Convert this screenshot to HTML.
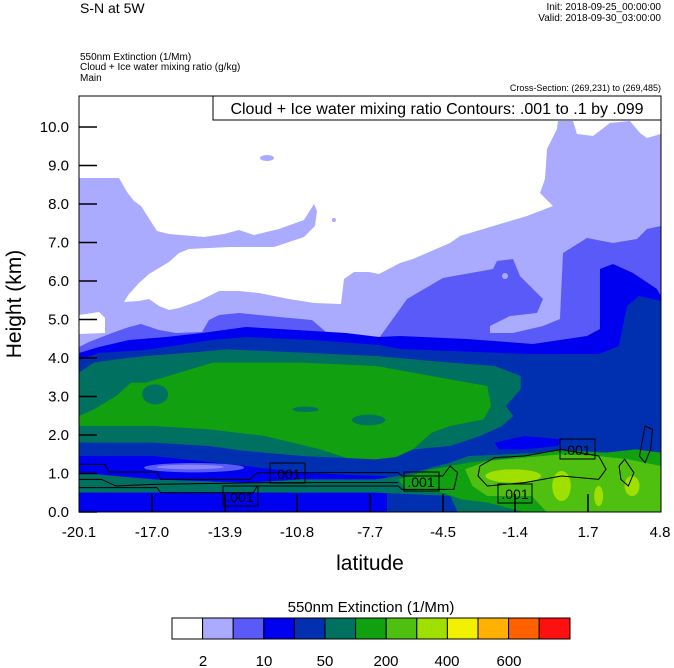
<!DOCTYPE html>
<html><head><meta charset="utf-8"><style>
html,body{margin:0;padding:0;background:#fff;}
svg{display:block;font-family:"Liberation Sans",Arial,sans-serif;}
</style></head><body>
<svg width="674" height="668" viewBox="0 0 674 668" xmlns="http://www.w3.org/2000/svg">
<text x="80" y="13" font-size="14">S-N at 5W</text>
<text x="661" y="10" font-size="10" text-anchor="end">Init: 2018-09-25_00:00:00</text>
<text x="661" y="21" font-size="10" text-anchor="end">Valid: 2018-09-30_03:00:00</text>
<text x="80" y="60" font-size="10">550nm Extinction   (1/Mm)</text>
<text x="80" y="70" font-size="10">Cloud + Ice water mixing ratio   (g/kg)</text>
<text x="80" y="81" font-size="10">Main</text>
<text x="661" y="91" font-size="9" text-anchor="end">Cross-Section: (269,231) to (269,485)</text>

<svg x="79" y="96" width="582" height="416" viewBox="0 0 1568 1248" preserveAspectRatio="none">
<rect width="1568" height="1248" fill="#aaaaff"/>
<g transform="scale(2.694,3)">
<polygon fill="#fff" points="0,0 582,0 582,38 568,42 561,37 551,25 531,27 514,40 498,38 494,25 479,25 478,33 468,53 466,83 461,97 474,110 448,120 421,128 381,140 371,147 334,163 321,167 300,178 290,176 275,176 265,183 262,208 235,207 210,203 180,197 160,195 140,195 120,205 100,212 90,214 80,210 70,203 60,205 45,206 50,198 60,187 70,178 90,166 100,157 110,153 150,151 195,151 225,141 236,130 238,115 235,108 225,124 200,133 175,139 160,134 145,138 125,141 90,138 78,135 62,110 55,105 48,96 40,82 0,82"/>
<polygon fill="#fff" points="0,219 20,216 26,222 26,237 0,238"/>
<ellipse cx="188" cy="62" rx="7" ry="3" fill="#aaaaff"/>
<ellipse cx="255" cy="124" rx="2" ry="2" fill="#aaaaff"/>
<polygon fill="#5a5af8" points="0,251 10,246 33,237 50,231 62,228 80,234 97,237 123,236 130,224 140,219 160,217 200,221 233,224 247,236 267,239 300,242 321,213 328,203 364,182 414,173 418,165 434,163 441,180 464,203 458,217 431,220 411,230 411,237 434,237 464,230 481,223 484,157 508,142 534,147 558,143 568,133 582,130 582,416 0,416"/>
<ellipse cx="426" cy="180" rx="3" ry="3" fill="#aaaaff"/>
<polygon fill="#0000f0" points="0,257 20,251 50,244 87,241 123,237 167,231 217,234 267,237 300,241 321,240 388,243 454,248 508,240 521,233 521,173 534,168 554,177 578,193 582,200 582,416 0,416"/>
<polygon fill="#0030b0" points="0,264 20,257 67,254 133,244 167,241 233,244 300,249 321,253 450,258 520,258 540,250 548,210 560,200 582,205 582,416 0,416"/>
</g>
<polygon fill="#007060" points="0,830 40,800 100,790 180,780 300,770 400,760 600,770 800,780 1000,800 1120,810 1190,840 1190,880 1150,930 1170,960 1140,990 1080,1020 1000,1050 900,1060 800,1080 700,1090 600,1080 480,1070 350,1050 200,1040 100,1040 0,1040"/>
<polygon fill="#10a010" points="0,960 40,940 100,900 140,860 180,860 240,840 300,820 360,800 600,800 800,810 900,830 1000,850 1100,870 1110,930 1090,970 1000,990 950,1010 900,1060 820,1100 760,1100 650,1060 500,1020 350,1000 200,990 100,990 0,990"/>
<ellipse cx="205" cy="895" rx="35" ry="30" fill="#007060"/>
<ellipse cx="610" cy="940" rx="35" ry="8" fill="#007060"/>
<ellipse cx="780" cy="972" rx="45" ry="16" fill="#007060"/>
<polygon fill="#0030b0" points="0,1040 300,1050 600,1080 800,1090 880,1080 960,1060 1050,1040 1200,1030 1280,1020 1280,1248 0,1248"/>
<polygon fill="#0000f0" points="0,1080 200,1080 450,1110 600,1130 800,1140 830,1140 830,1248 0,1248"/>
<ellipse cx="310" cy="1115" rx="135" ry="14" fill="#5a5af8"/>
<ellipse cx="300" cy="1113" rx="90" ry="7" fill="#8888fc"/>
<polygon fill="#0000f0" points="1120,1040 1200,1020 1300,1030 1290,1050 1200,1060 1130,1060"/>
<polygon fill="#007060" points="0,1130 200,1150 450,1160 600,1150 800,1150 860,1140 900,1130 1000,1100 1050,1080 1250,1070 1300,1060 1420,1070 1568,1080 1568,1248 1020,1248 1000,1200 800,1190 500,1190 300,1190 0,1190"/>
<polygon fill="#0000f0" points="0,1190 300,1190 500,1190 830,1195 830,1248 0,1248"/>
<polygon fill="#0030b0" points="830,1195 1000,1200 1020,1248 830,1248"/>
<polygon fill="#10a010" points="860,1150 950,1120 1050,1100 1200,1080 1280,1065 1420,1070 1500,1060 1568,1070 1568,1248 1200,1248 1100,1220 1030,1210 980,1190 880,1180"/>
<polygon fill="#50c010" points="1040,1120 1100,1095 1200,1085 1300,1075 1400,1080 1480,1090 1568,1110 1568,1248 1260,1248 1220,1200 1100,1200 1060,1170"/>
<ellipse cx="1170" cy="1140" rx="75" ry="20" fill="#a0e000"/>
<ellipse cx="1300" cy="1170" rx="25" ry="45" fill="#a0e000"/>
<ellipse cx="1490" cy="1170" rx="20" ry="30" fill="#a0e000"/>
<ellipse cx="1400" cy="1200" rx="12" ry="30" fill="#a0e000"/>
<ellipse cx="1525" cy="1000" rx="25" ry="60" fill="#0030b0"/>
<g fill="none" stroke="#000" stroke-width="1">
<polyline vector-effect="non-scaling-stroke" points="0,1105 70,1105 80,1128 210,1128 220,1150 460,1150 480,1130 860,1130 870,1140 980,1140 1000,1110 1020,1130 1010,1180 870,1180 860,1170 480,1170 470,1190 220,1190 210,1175 0,1175"/>
<polyline vector-effect="non-scaling-stroke" points="0,1150 60,1150 100,1170 200,1165 500,1160 860,1160"/>
<polyline vector-effect="non-scaling-stroke" points="1080,1110 1120,1085 1200,1080 1300,1060 1400,1080 1420,1120 1400,1150 1300,1140 1200,1160 1100,1170 1075,1140 1080,1110"/>
<polyline vector-effect="non-scaling-stroke" points="1510,1080 1525,990 1545,1000 1540,1060 1525,1100 1510,1080"/>
<polyline vector-effect="non-scaling-stroke" points="1455,1110 1470,1090 1495,1130 1480,1170 1460,1150 1455,1110"/>
</g>
</svg>

<g stroke="#000" stroke-width="1.5">
<line x1="79" y1="512" x2="97" y2="512"/><line x1="79" y1="473.5" x2="97" y2="473.5"/><line x1="79" y1="435" x2="97" y2="435"/><line x1="79" y1="396.5" x2="97" y2="396.5"/><line x1="79" y1="358" x2="97" y2="358"/><line x1="79" y1="319.5" x2="97" y2="319.5"/><line x1="79" y1="281" x2="97" y2="281"/><line x1="79" y1="242.5" x2="97" y2="242.5"/><line x1="79" y1="204" x2="97" y2="204"/><line x1="79" y1="165.5" x2="97" y2="165.5"/><line x1="79" y1="127" x2="97" y2="127"/>
<line x1="152" y1="512" x2="152" y2="494"/><line x1="225" y1="512" x2="225" y2="494"/><line x1="297" y1="512" x2="297" y2="494"/><line x1="370" y1="512" x2="370" y2="494"/><line x1="443" y1="512" x2="443" y2="494"/><line x1="515" y1="512" x2="515" y2="494"/><line x1="588" y1="512" x2="588" y2="494"/>
</g>
<rect x="79" y="96" width="582" height="416" fill="none" stroke="#000" stroke-width="1"/>
<rect x="213" y="96" width="448" height="24" fill="#fff" stroke="#000" stroke-width="1"/>
<text x="437" y="114" font-size="16" text-anchor="middle">Cloud + Ice water mixing ratio Contours: .001 to .1 by .099</text>

<g font-size="14" fill="#000">
<rect x="270" y="463" width="35" height="20" fill="none" stroke="#000"/><text x="287" y="479" text-anchor="middle">.001</text>
<rect x="223" y="486" width="35" height="20" fill="none" stroke="#000"/><text x="240" y="502" text-anchor="middle">.001</text>
<rect x="404" y="472" width="35" height="19" fill="none" stroke="#000"/><text x="421" y="487" text-anchor="middle">.001</text>
<rect x="498" y="484" width="34" height="19" fill="none" stroke="#000"/><text x="515" y="499" text-anchor="middle">.001</text>
<rect x="560" y="439" width="35" height="20" fill="none" stroke="#000"/><text x="577" y="455" text-anchor="middle">.001</text>
</g>

<g font-size="15" text-anchor="end">
<text x="69" y="517">0.0</text><text x="69" y="478.5">1.0</text><text x="69" y="440">2.0</text><text x="69" y="401.5">3.0</text><text x="69" y="363">4.0</text><text x="69" y="324.5">5.0</text><text x="69" y="286">6.0</text><text x="69" y="247.5">7.0</text><text x="69" y="209">8.0</text><text x="69" y="170.5">9.0</text><text x="69" y="132">10.0</text>
</g>
<g font-size="15" text-anchor="middle">
<text x="79" y="537">-20.1</text><text x="152" y="537">-17.0</text><text x="225" y="537">-13.9</text><text x="297" y="537">-10.8</text><text x="370" y="537">-7.7</text><text x="443" y="537">-4.5</text><text x="515" y="537">-1.4</text><text x="588" y="537">1.7</text><text x="660" y="537">4.8</text>
</g>
<text x="370" y="570" font-size="21" text-anchor="middle">latitude</text>
<text transform="translate(21,304) rotate(-90)" font-size="21" text-anchor="middle">Height (km)</text>

<text x="371" y="612" font-size="15" text-anchor="middle">550nm Extinction  (1/Mm)</text>
<g stroke="#000" stroke-width="1">
<rect x="172" y="618" width="30.6" height="21" fill="#ffffff"/>
<rect x="202.6" y="618" width="30.6" height="21" fill="#aaaaff"/>
<rect x="233.2" y="618" width="30.6" height="21" fill="#5a5af8"/>
<rect x="263.8" y="618" width="30.6" height="21" fill="#0000f0"/>
<rect x="294.4" y="618" width="30.6" height="21" fill="#0030b0"/>
<rect x="325" y="618" width="30.6" height="21" fill="#007060"/>
<rect x="355.6" y="618" width="30.6" height="21" fill="#10a010"/>
<rect x="386.2" y="618" width="30.6" height="21" fill="#50c010"/>
<rect x="416.8" y="618" width="30.6" height="21" fill="#a0e000"/>
<rect x="447.4" y="618" width="30.6" height="21" fill="#f0f000"/>
<rect x="478" y="618" width="30.6" height="21" fill="#ffb000"/>
<rect x="508.6" y="618" width="30.6" height="21" fill="#ff6000"/>
<rect x="539.2" y="618" width="30.8" height="21" fill="#ff1010"/>
</g>
<g font-size="15" text-anchor="middle">
<text x="203" y="666">2</text><text x="264" y="666">10</text><text x="325" y="666">50</text><text x="386" y="666">200</text><text x="447" y="666">400</text><text x="509" y="666">600</text>
</g>
</svg>
</body></html>
